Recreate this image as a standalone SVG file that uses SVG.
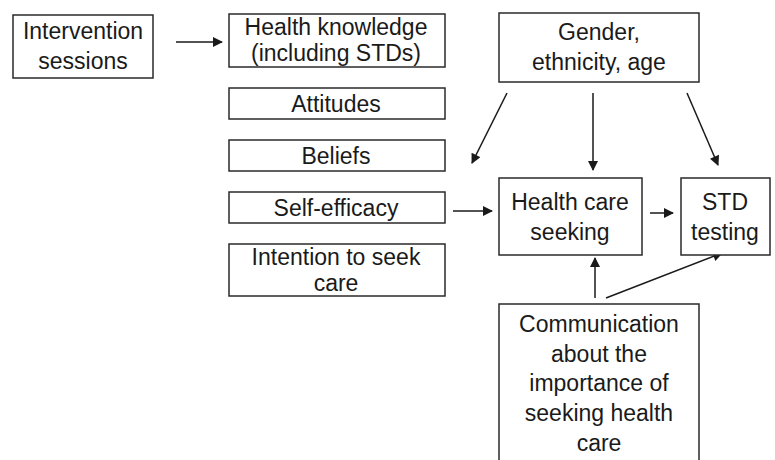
<svg xmlns="http://www.w3.org/2000/svg" width="775" height="460" viewBox="0 0 775 460">
<style>
.box{fill:#fff;stroke:#2a2a2a;stroke-width:1.5}
.t{font-family:"Liberation Sans",Arial,sans-serif;font-size:23px;fill:#1a1a1a;text-anchor:middle}
.c{stroke:#1a1a1a;stroke-width:1.5;fill:none;marker-end:url(#ah)}
</style>
<defs>
<marker id="ah" viewBox="0 0 10 10" refX="9" refY="5" markerWidth="11" markerHeight="10" markerUnits="userSpaceOnUse" orient="auto">
<path d="M0,0 L10,5 L0,10 z" fill="#1a1a1a"/>
</marker>
</defs>
<rect width="775" height="460" fill="#fff"/>
<g id="connectors">
<line class="c" x1="176" y1="42" x2="222" y2="42"/>
<line class="c" x1="453" y1="211" x2="492" y2="211"/>
<line class="c" x1="650" y1="213" x2="673" y2="213"/>
<line class="c" x1="507" y1="93" x2="472" y2="163"/>
<line class="c" x1="593" y1="93" x2="593" y2="170"/>
<line class="c" x1="687" y1="93" x2="718" y2="165"/>
<line class="c" x1="595" y1="298" x2="595" y2="258"/>
<line class="c" x1="606" y1="298" x2="722" y2="253"/>
</g>
<g id="intervention"><rect class="box" x="13" y="15" width="140" height="63"/><text class="t" x="83" y="39">Intervention</text><text class="t" x="83" y="69">sessions</text></g>
<g id="knowledge"><rect class="box" x="229" y="14" width="216" height="53"/><text class="t" x="336" y="35">Health knowledge</text><text class="t" x="336" y="61">(including STDs)</text></g>
<g id="attitudes"><rect class="box" x="229" y="88" width="216" height="31"/><text class="t" x="336" y="112">Attitudes</text></g>
<g id="beliefs"><rect class="box" x="229" y="140" width="216" height="31"/><text class="t" x="336" y="164">Beliefs</text></g>
<g id="selfefficacy"><rect class="box" x="229" y="192" width="216" height="31"/><text class="t" x="336" y="216">Self-efficacy</text></g>
<g id="intention"><rect class="box" x="229" y="244" width="216" height="52"/><text class="t" x="336" y="265">Intention to seek</text><text class="t" x="336" y="291">care</text></g>
<g id="gender"><rect class="box" x="499" y="13" width="200" height="69"/><text class="t" x="599" y="40">Gender,</text><text class="t" x="599" y="70">ethnicity, age</text></g>
<g id="hcs"><rect class="box" x="499" y="178" width="143" height="77"/><text class="t" x="570" y="210">Health care</text><text class="t" x="570" y="240">seeking</text></g>
<g id="std"><rect class="box" x="681" y="178" width="89" height="77"/><text class="t" x="725" y="210">STD</text><text class="t" x="725" y="240">testing</text></g>
<g id="communication"><rect class="box" x="499" y="304" width="200" height="162"/><text class="t" x="599" y="332">Communication</text><text class="t" x="599" y="362">about the</text><text class="t" x="599" y="391">importance of</text><text class="t" x="599" y="421">seeking health</text><text class="t" x="599" y="451">care</text></g>
</svg>
